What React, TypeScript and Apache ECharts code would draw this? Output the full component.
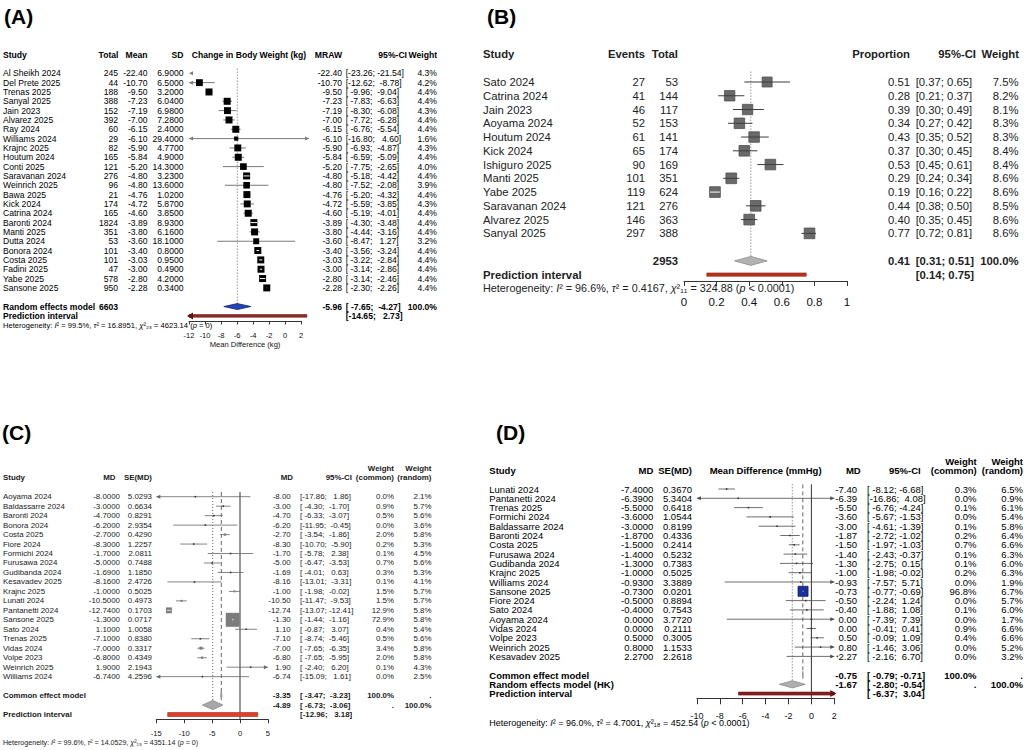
import React, { useEffect, useRef } from "react";
import * as echarts from "echarts";

const FONT = "'Liberation Sans', Arial, Helvetica, sans-serif";
const NB = "\u00a0";

// ---------- (A) change in body weight (raw mean) ----------
const aStudy = ["Al Sheikh 2024", "Del Prete 2025", "Trenas 2025", "Sanyal 2025", "Jain 2023", "Alvarez 2025", "Ray 2024", "Williams 2024", "Krajnc 2025", "Houtum 2024", "Conti 2025", "Saravanan 2024", "Weinrich 2025", "Bawa 2025", "Kick 2024", "Catrina 2024", "Baronti 2024", "Manti 2025", "Dutta 2024", "Bonora 2024", "Costa 2025", "Fadini 2025", "Yabe 2025", "Sansone 2025"];
const aTotal = [245, 44, 188, 388, 152, 392, 60, 29, 82, 165, 121, 276, 96, 21, 174, 165, 1824, 351, 53, 101, 101, 47, 578, 950];
const aMean = [-22.4, -10.7, -9.5, -7.23, -7.19, -7.0, -6.15, -6.1, -5.9, -5.84, -5.2, -4.8, -4.8, -4.76, -4.72, -4.6, -3.89, -3.8, -3.6, -3.4, -3.03, -3.0, -2.8, -2.28];
const aSD = [6.9, 6.5, 3.2, 6.04, 6.98, 7.28, 2.4, 29.4, 4.77, 4.9, 14.3, 3.23, 13.6, 1.02, 5.87, 3.85, 8.93, 6.16, 18.1, 0.8, 0.95, 0.49, 4.2, 0.34];
const aLower = [-23.26, -12.62, -9.96, -7.83, -8.3, -7.72, -6.76, -16.8, -6.93, -6.59, -7.75, -5.18, -7.52, -5.2, -5.59, -5.19, -4.3, -4.44, -8.47, -3.56, -3.22, -3.14, -3.14, -2.3];
const aUpper = [-21.54, -8.78, -9.04, -6.63, -6.08, -6.28, -5.54, 4.6, -4.87, -5.09, -2.65, -4.42, -2.08, -4.32, -3.85, -4.01, -3.48, -3.16, 1.27, -3.24, -2.84, -2.86, -2.46, -2.26];
const aWeight = [4.3, 4.2, 4.4, 4.4, 4.3, 4.4, 4.4, 1.6, 4.3, 4.4, 4.0, 4.4, 3.9, 4.4, 4.3, 4.4, 4.4, 4.4, 3.2, 4.4, 4.4, 4.4, 4.4, 4.4];
const aRandom = [-5.96, -7.65, -4.27];
const aPredict = [-14.65, 2.73];
const aN = 6603;
const aHet = "Heterogeneity: {i|I}² = 99.5%, {i|τ}² = 16.8951, {i|χ}²₂₃ = 4623.14 ({i|p} = 0)";

// ---------- (B) proportion ----------
const bStudy = ["Sato 2024", "Catrina 2024", "Jain 2023", "Aoyama 2024", "Houtum 2024", "Kick 2024", "Ishiguro 2025", "Manti 2025", "Yabe 2025", "Saravanan 2024", "Alvarez 2025", "Sanyal 2025"];
const bEvents = [27, 41, 46, 52, 61, 65, 90, 101, 119, 121, 146, 297];
const bTotal = [53, 144, 117, 153, 141, 174, 169, 351, 624, 276, 363, 388];
const bProp = [0.51, 0.28, 0.39, 0.34, 0.43, 0.37, 0.53, 0.29, 0.19, 0.44, 0.4, 0.77];
const bLower = [0.37, 0.21, 0.3, 0.27, 0.35, 0.3, 0.45, 0.24, 0.16, 0.38, 0.35, 0.72];
const bUpper = [0.65, 0.37, 0.49, 0.42, 0.52, 0.45, 0.61, 0.34, 0.22, 0.5, 0.45, 0.81];
const bWeight = [7.5, 8.2, 8.1, 8.3, 8.3, 8.4, 8.4, 8.6, 8.6, 8.5, 8.6, 8.6];
const bRandom = [0.41, 0.31, 0.51];
const bPredict = [0.14, 0.75];
const bN = 2953;
const bHet = "Heterogeneity: {i|I}² = 96.6%, {i|τ}² = 0.4167, {i|χ}²₁₁ = 324.88 ({i|p} < 0.0001)";

// ---------- (C) mean difference ----------
const cStudy = ["Aoyama 2024", "Baldassarre 2024", "Baronti 2024", "Bonora 2024", "Costa 2025", "Fiore 2024", "Formichi 2024", "Furusawa 2024", "Gudibanda 2024", "Kesavadev 2025", "Krajnc 2025", "Lunati 2024", "Pantanetti 2024", "Sansone 2025", "Sato 2024", "Trenas 2025", "Vidas 2024", "Volpe 2023", "Weinrich 2025", "Williams 2024"];
const cMD = [-8.0, -3.0, -4.7, -6.2, -2.7, -8.3, -1.7, -5.0, -1.69, -8.16, -1.0, -10.5, -12.74, -1.3, 1.1, -7.1, -7.0, -6.8, 1.9, -6.74];
const cSE = [5.0293, 0.6634, 0.8291, 2.9354, 0.429, 1.2257, 2.0811, 0.7488, 1.185, 2.4726, 0.5025, 0.4973, 0.1703, 0.0717, 1.0058, 0.838, 0.3317, 0.4349, 2.1943, 4.2596];
const cLower = [-17.86, -4.3, -6.33, -11.95, -3.54, -10.7, -5.78, -6.47, -4.01, -13.01, -1.98, -11.47, -13.07, -1.44, -0.87, -8.74, -7.65, -7.65, -2.4, -15.09];
const cUpper = [1.86, -1.7, -3.07, -0.45, -1.86, -5.9, 2.38, -3.53, 0.63, -3.31, -0.02, -9.53, -12.41, -1.16, 3.07, -5.46, -6.35, -5.95, 6.2, 1.61];
const cWCommon = [0.0, 0.9, 0.5, 0.0, 2.0, 0.2, 0.1, 0.7, 0.3, 0.1, 1.5, 1.5, 12.9, 72.9, 0.4, 0.5, 3.4, 2.0, 0.1, 0.0];
const cWRandom = [2.1, 5.7, 5.6, 3.6, 5.8, 5.3, 4.5, 5.6, 5.3, 4.1, 5.7, 5.7, 5.8, 5.8, 5.4, 5.6, 5.8, 5.8, 4.3, 2.5];
const cCommon = [-3.35, -3.47, -3.23];
const cRandom = [-4.89, -6.73, -3.06];
const cPredict = [-12.96, 3.18];
const cHet = "Heterogeneity: {i|I}² = 99.6%, {i|τ}² = 14.0529, {i|χ}²₁₉ = 4351.14 ({i|p} = 0)";

// ---------- (D) mean difference (mmHg) ----------
const dStudy = ["Lunati 2024", "Pantanetti 2024", "Trenas 2025", "Formichi 2024", "Baldassarre 2024", "Baronti 2024", "Costa 2025", "Furusawa 2024", "Gudibanda 2024", "Krajnc 2025", "Williams 2024", "Sansone 2025", "Fiore 2024", "Sato 2024", "Aoyama 2024", "Vidas 2024", "Volpe 2023", "Weinrich 2025", "Kesavadev 2025"];
const dMD = [-7.4, -6.39, -5.5, -3.6, -3.0, -1.87, -1.5, -1.4, -1.3, -1.0, -0.93, -0.73, -0.5, -0.4, 0.0, 0.0, 0.5, 0.8, 2.27];
const dSE = [0.367, 5.3404, 0.6418, 1.0544, 0.8199, 0.4336, 0.2414, 0.5232, 0.7383, 0.5025, 3.3889, 0.0201, 0.8894, 0.7543, 3.772, 0.2111, 0.3005, 1.1533, 2.2618];
const dLower = [-8.12, -16.86, -6.76, -5.67, -4.61, -2.72, -1.97, -2.43, -2.75, -1.98, -7.57, -0.77, -2.24, -1.88, -7.39, -0.41, -0.09, -1.46, -2.16];
const dUpper = [-6.68, 4.08, -4.24, -1.53, -1.39, -1.02, -1.03, -0.37, 0.15, -0.02, 5.71, -0.69, 1.24, 1.08, 7.39, 0.41, 1.09, 3.06, 6.7];
const dWCommon = [0.3, 0.0, 0.1, 0.0, 0.1, 0.2, 0.7, 0.1, 0.1, 0.2, 0.0, 96.8, 0.0, 0.1, 0.0, 0.9, 0.4, 0.0, 0.0];
const dWRandom = [6.5, 0.9, 6.1, 5.4, 5.8, 6.4, 6.6, 6.3, 6.0, 6.3, 1.9, 6.7, 5.7, 6.0, 1.7, 6.6, 6.6, 5.2, 3.2];
const dCommon = [-0.75, -0.79, -0.71];
const dRandom = [-1.67, -2.8, -0.54];
const dPredict = [-6.37, 3.04];
const dHet = "Heterogeneity: {i|I}² = 96.0%, {i|τ}² = 4.7001, {i|χ}²₁₈ = 452.54 ({i|p} < 0.0001)";

// ---------- panel geometry ----------
type Panel = {
  y0: number; rh: number; top: number; axis: number;
  left: number; width: number; min: number; max: number; step: number;
  lim: [number, number];
};
const PA: Panel = { y0: 73.3, rh: 9.33, top: -1, axis: 26.55, left: 189, width: 112, min: -12, max: 2, step: 2, lim: [-12, 3] };
const PB: Panel = { y0: 82, rh: 13.76, top: -1, axis: 14.46, left: 684, width: 163, min: 0, max: 1, step: 0.2, lim: [0, 1] };
const PC: Panel = { y0: 496.7, rh: 9.47, top: -1, axis: 23.5, left: 156.3, width: 111.6, min: -15, max: 5, step: 5, lim: [-15, 5] };
const PD: Panel = { y0: 489, rh: 9.3, top: -1, axis: 22.5, left: 696.9, width: 137.4, min: -10, max: 2, step: 2, lim: [-10, 2] };

const rowY = (p: Panel, r: number) => p.y0 + r * p.rh;

// ---------- text helpers ----------
function label(x: number, y: number, text: string, size: number, o: any = {}) {
  const align = o.align || "left";
  const color = o.color || "#000";
  return {
    type: "text",
    x, y, silent: true, z: 20,
    style: {
      text,
      fill: color,
      fontSize: size,
      fontFamily: FONT,
      fontWeight: o.bold ? "bold" : "normal",
      align, verticalAlign: "middle",
      textAlign: align, textVerticalAlign: "middle",
      rich: o.rich,
    },
  };
}

function italicRich(size: number, color: string) {
  return { i: { fontStyle: "italic", fontSize: size, fontFamily: FONT, fill: color } };
}

const pct = (v: number) => v.toFixed(1) + "%";

function ciStrings(pairs: number[][], dec: number): string[] {
  const lo = pairs.map((p) => p[0].toFixed(dec));
  const hi = pairs.map((p) => p[1].toFixed(dec));
  const wl = Math.max(...lo.map((s) => s.length));
  const wh = Math.max(...hi.map((s) => s.length));
  return lo.map((s, k) => "[" + s.padStart(wl, NB) + ";" + NB + hi[k].padStart(wh, NB) + "]");
}

function textA(): any[] {
  const p = PA, fs = 8.6, col = "#000";
  const el: any[] = [];
  const t = (x: number, r: number, s: string, o: any = {}) =>
    el.push(label(x, rowY(p, r), s, o.size || fs, { color: col, ...o }));
  const B = { bold: true }, R = { align: "right" }, BR = { bold: true, align: "right" };
  t(3, -2, "Study", B);
  t(118.5, -2, "Total", BR);
  t(147.5, -2, "Mean", BR);
  t(183.5, -2, "SD", BR);
  t(249, -2, "Change in Body Weight (kg)", { bold: true, align: "center" });
  t(342, -2, "MRAW", BR);
  t(407, -2, "95%-CI", BR);
  t(437, -2, "Weight", BR);
  const ci = ciStrings([...aLower.map((l, k) => [l, aUpper[k]]), [aRandom[1], aRandom[2]], aPredict], 2);
  aStudy.forEach((s, k) => {
    t(3, k, s);
    t(118, k, String(aTotal[k]), R);
    t(147.5, k, aMean[k].toFixed(2), R);
    t(183.5, k, aSD[k].toFixed(4), R);
    t(342, k, aMean[k].toFixed(2), R);
    t(345.7, k, ci[k]);
    t(437, k, pct(aWeight[k]), R);
  });
  const n = aStudy.length;
  t(3, n + 1, "Random effects model", B);
  t(118, n + 1, String(aN), BR);
  t(342, n + 1, aRandom[0].toFixed(2), BR);
  t(345.7, n + 1, ci[n], B);
  t(437, n + 1, "100.0%", BR);
  t(3, n + 2, "Prediction interval", B);
  t(345.7, n + 2, ci[n + 1], B);
  t(3, n + 3, aHet, { size: 7.6, rich: italicRich(7.6, col) });
  return el;
}

function textB(): any[] {
  const p = PB, fs = 11.3, col = "#222";
  const el: any[] = [];
  const t = (x: number, r: number, s: string, o: any = {}) =>
    el.push(label(x, rowY(p, r), s, o.size || fs, { color: col, ...o }));
  const B = { bold: true }, R = { align: "right" }, BR = { bold: true, align: "right" };
  t(483, -2, "Study", B);
  t(645, -2, "Events", BR);
  t(678, -2, "Total", BR);
  t(910, -2, "Proportion", BR);
  t(976, -2, "95%-CI", BR);
  t(1019, -2, "Weight", BR);
  const ci = ciStrings([...bLower.map((l, k) => [l, bUpper[k]]), [bRandom[1], bRandom[2]], bPredict], 2);
  bStudy.forEach((s, k) => {
    t(483, k, s);
    t(645, k, String(bEvents[k]), R);
    t(678, k, String(bTotal[k]), R);
    t(910, k, bProp[k].toFixed(2), R);
    t(915.7, k, ci[k]);
    t(1018.5, k, pct(bWeight[k]), R);
  });
  const n = bStudy.length;
  t(678, n + 1, String(bN), BR);
  t(910, n + 1, bRandom[0].toFixed(2), BR);
  t(915.7, n + 1, ci[n], B);
  t(1018.5, n + 1, "100.0%", BR);
  t(483, n + 2, "Prediction interval", B);
  t(915.7, n + 2, ci[n + 1], B);
  t(483, n + 3, bHet, { size: 10.8, rich: italicRich(10.8, col) });
  return el;
}

function textC(): any[] {
  const p = PC, fs = 7.9, col = "#1a1a1a";
  const el: any[] = [];
  const t = (x: number, r: number, s: string, o: any = {}) =>
    el.push(label(x, rowY(p, r), s, o.size || fs, { color: col, ...o }));
  const B = { bold: true }, R = { align: "right" }, BR = { bold: true, align: "right" };
  t(3, -2, "Study", B);
  t(115.5, -2, "MD", BR);
  t(152, -2, "SE(MD)", BR);
  t(293, -2, "MD", BR);
  t(352, -2, "95%-CI", BR);
  t(394, -3, "Weight", BR);
  t(394, -2, "(common)", BR);
  t(431.5, -3, "Weight", BR);
  t(431.5, -2, "(random)", BR);
  const ci = ciStrings([...cLower.map((l, k) => [l, cUpper[k]]), [cCommon[1], cCommon[2]], [cRandom[1], cRandom[2]], cPredict], 2);
  cStudy.forEach((s, k) => {
    t(3, k, s);
    t(120, k, cMD[k].toFixed(4), R);
    t(152, k, cSE[k].toFixed(4), R);
    t(290.7, k, cMD[k].toFixed(2), R);
    t(300, k, ci[k]);
    t(394, k, pct(cWCommon[k]), R);
    t(431.5, k, pct(cWRandom[k]), R);
  });
  const n = cStudy.length;
  t(3, n + 1, "Common effect model", B);
  t(290.7, n + 1, cCommon[0].toFixed(2), BR);
  t(300, n + 1, ci[n], B);
  t(394, n + 1, "100.0%", BR);
  t(431.5, n + 1, ".", BR);
  t(290.7, n + 2, cRandom[0].toFixed(2), BR);
  t(300, n + 2, ci[n + 1], B);
  t(394, n + 2, ".", BR);
  t(431.5, n + 2, "100.0%", BR);
  t(3, n + 3, "Prediction interval", B);
  t(300, n + 3, ci[n + 2], B);
  t(3, n + 6, cHet, { size: 7.1, rich: italicRich(7.1, col) });
  return el;
}

function textD(): any[] {
  const p = PD, fs = 9.5, col = "#000";
  const el: any[] = [];
  const t = (x: number, r: number, s: string, o: any = {}) =>
    el.push(label(x, rowY(p, r), s, o.size || fs, { color: col, ...o }));
  const B = { bold: true }, R = { align: "right" }, BR = { bold: true, align: "right" };
  t(489.3, -2, "Study", B);
  t(653.3, -2, "MD", BR);
  t(692, -2, "SE(MD)", BR);
  t(765.6, -2, "Mean Difference (mmHg)", { bold: true, align: "center" });
  t(860.7, -2, "MD", BR);
  t(920.7, -2, "95%-CI", BR);
  t(976.7, -3, "Weight", BR);
  t(976.7, -2, "(common)", BR);
  t(1023, -3, "Weight", BR);
  t(1023, -2, "(random)", BR);
  const ci = ciStrings([...dLower.map((l, k) => [l, dUpper[k]]), [dCommon[1], dCommon[2]], [dRandom[1], dRandom[2]], dPredict], 2);
  dStudy.forEach((s, k) => {
    t(489.3, k, s);
    t(653.3, k, dMD[k].toFixed(4), R);
    t(692, k, dSE[k].toFixed(4), R);
    t(857, k, dMD[k].toFixed(2), R);
    t(867, k, ci[k]);
    t(976.5, k, pct(dWCommon[k]), R);
    t(1023, k, pct(dWRandom[k]), R);
  });
  const n = dStudy.length;
  t(489.3, n + 1, "Common effect model", B);
  t(857, n + 1, dCommon[0].toFixed(2), BR);
  t(867, n + 1, ci[n], B);
  t(976.5, n + 1, "100.0%", BR);
  t(1023, n + 1, ".", BR);
  t(489.3, n + 2, "Random effects model (HK)", B);
  t(857, n + 2, dRandom[0].toFixed(2), BR);
  t(867, n + 2, ci[n + 1], B);
  t(976.5, n + 2, ".", BR);
  t(1023, n + 2, "100.0%", BR);
  t(489.3, n + 3, "Prediction interval", B);
  t(867, n + 3, ci[n + 2], B);
  t(489.3, n + 6.2, dHet, { size: 9, rich: italicRich(9, col) });
  return el;
}

// ---------- mark renderers ----------
const tri = (x: number, y: number, dir: number, color: string, len = 4, half = 2) => ({
  type: "polygon",
  shape: { points: [[x, y], [x - dir * len, y - half], [x - dir * len, y + half]] },
  style: { fill: color },
});

type BoxStyle = {
  box: string; boxStroke: string; line: string; lw: number;
  maxSide: number; minSide: number; wMax: number; lineOnTop: boolean;
};

function studyItem(p: Panel, st: BoxStyle) {
  return (_params: any, api: any) => {
    const est = api.value(0), lo = api.value(1), hi = api.value(2), row = api.value(3), w = api.value(4);
    const [xmin, xmax] = p.lim;
    const at = (v: number) => api.coord([v, row]);
    const y = at(est)[1];
    const kids: any[] = [];
    if (hi < xmin) {
      kids.push(tri(at(xmin)[0], y, -1, st.line));
      return { type: "group", children: kids };
    }
    if (lo > xmax) {
      kids.push(tri(at(xmax)[0], y, 1, st.line));
      return { type: "group", children: kids };
    }
    const xa = at(Math.max(lo, xmin))[0];
    const xb = at(Math.min(hi, xmax))[0];
    const xe = at(est)[0];
    const raw = st.maxSide * Math.sqrt(w / st.wMax);
    const tiny = raw < st.minSide;
    const side = tiny ? st.minSide : raw;
    const narrow = xb - xa < side;
    const seg = (stroke: string) => ({
      type: "line",
      shape: { x1: xa, y1: y, x2: xb, y2: y },
      style: { stroke, lineWidth: st.lw },
    });
    if (!st.lineOnTop || narrow) kids.push(seg(st.line));
    kids.push({
      type: "rect",
      shape: { x: xe - side / 2, y: y - side / 2, width: side, height: side },
      style: tiny
        ? { fill: "#333" }
        : { fill: st.box, stroke: st.boxStroke || undefined, lineWidth: st.boxStroke ? 0.8 : 0 },
    });
    if (narrow) kids.push(seg("#ffffff"));
    else if (st.lineOnTop) kids.push(seg(st.line));
    if (lo < xmin) kids.push(tri(xa, y, -1, st.line));
    if (hi > xmax) kids.push(tri(xb, y, 1, st.line));
    return { type: "group", children: kids };
  };
}

function diamondItem(half: number, fill: string, stroke: string) {
  return (_params: any, api: any) => {
    const row = api.value(3);
    const a = api.coord([api.value(1), row]);
    const e = api.coord([api.value(0), row]);
    const b = api.coord([api.value(2), row]);
    return {
      type: "polygon",
      shape: { points: [[a[0], a[1]], [e[0], e[1] - half], [b[0], b[1]], [e[0], e[1] + half]] },
      style: { fill, stroke, lineWidth: 0.8 },
    };
  };
}

function predictItem(p: Panel, h: number, fill: string, stroke: string) {
  return (_params: any, api: any) => {
    const lo = api.value(0), hi = api.value(1), row = api.value(2);
    const a = api.coord([Math.max(lo, p.lim[0]), row]);
    const b = api.coord([Math.min(hi, p.lim[1]), row]);
    const kids: any[] = [
      {
        type: "rect",
        shape: { x: a[0], y: a[1] - h / 2, width: b[0] - a[0], height: h },
        style: { fill, stroke, lineWidth: 0.6 },
      },
    ];
    if (lo < p.lim[0]) kids.push(tri(a[0] - 2, a[1], -1, stroke, 6, 3.5));
    if (hi > p.lim[1]) kids.push(tri(b[0] + 2, b[1], 1, stroke, 6, 3.5));
    return { type: "group", children: kids };
  };
}

// reference lines: kind 0 solid, 1 dashed, 2 dotted
function refItem() {
  return (_params: any, api: any) => {
    const x = api.value(0), kind = api.value(3);
    const a = api.coord([x, api.value(1)]);
    const b = api.coord([x, api.value(2)]);
    return {
      type: "line",
      shape: { x1: a[0], y1: a[1], x2: b[0], y2: b[1] },
      style: {
        stroke: kind === 0 ? "#333" : "#555",
        lineWidth: kind === 0 ? 1 : 0.9,
        lineDash: kind === 0 ? null : kind === 1 ? [4, 3] : [1, 2],
      },
    };
  };
}

function seriesFor(i: number, p: Panel, parts: {
  lo: number[]; hi: number[]; est: number[]; w: number[]; box: BoxStyle;
  pooled: number[][]; pooledRows: number[]; dia: [number, string, string];
  predict: number[]; predictRow: number; pi: [number, string, string];
  refs: number[][];
}) {
  const common = { type: "custom", xAxisIndex: i, yAxisIndex: i, clip: false, silent: true, animation: false };
  return [
    { ...common, z: 1, data: parts.refs, encode: { x: 0, y: [1, 2] }, renderItem: refItem() },
    {
      ...common, z: 3,
      data: parts.est.map((e, k) => [e, parts.lo[k], parts.hi[k], k, parts.w[k]]),
      encode: { x: [0, 1, 2], y: 3 },
      renderItem: studyItem(p, parts.box),
    },
    {
      ...common, z: 3,
      data: parts.pooled.map((d, k) => [d[0], d[1], d[2], parts.pooledRows[k]]),
      encode: { x: [0, 1, 2], y: 3 },
      renderItem: diamondItem(parts.dia[0], parts.dia[1], parts.dia[2]),
    },
    {
      ...common, z: 3,
      data: [[parts.predict[0], parts.predict[1], parts.predictRow]],
      encode: { x: [0, 1], y: 2 },
      renderItem: predictItem(p, parts.pi[0], parts.pi[1], parts.pi[2]),
    },
  ];
}

function axisPair(i: number, p: Panel, fs: number, tick: number, margin: number, extra: any = {}) {
  return {
    x: {
      type: "value", gridIndex: i, min: p.min, max: p.max, interval: p.step, position: "bottom",
      axisLine: { show: true, onZero: false, lineStyle: { color: "#333", width: 1 } },
      axisTick: { show: true, length: tick, inside: false, lineStyle: { color: "#333", width: 1 } },
      axisLabel: { show: true, fontSize: fs, fontFamily: FONT, color: "#111", margin },
      splitLine: { show: false },
      ...extra,
    },
    y: { type: "value", gridIndex: i, min: p.top, max: p.axis, inverse: true, show: false, splitLine: { show: false } },
  };
}

function buildOption() {
  const panels = [PA, PB, PC, PD];
  const grid = panels.map((p) => ({
    left: p.left, top: rowY(p, p.top), width: p.width, height: (p.axis - p.top) * p.rh,
    containLabel: false, outerBoundsMode: "none", show: false,
  }));
  const axA = axisPair(0, PA, 7.6, 3.5, 10, {
    name: "Mean Difference (kg)", nameLocation: "middle", nameGap: 19,
    nameTextStyle: { fontSize: 7.6, fontFamily: FONT, color: "#111" },
  });
  const axB = axisPair(1, PB, 11.5, 5, 15.5);
  const axC = axisPair(2, PC, 7.6, 4, 10.3);
  const axD = axisPair(3, PD, 9, 6, 13.5);
  const axes = [axA, axB, axC, axD];

  const nA = aStudy.length, nB = bStudy.length, nC = cStudy.length, nD = dStudy.length;

  const series = [
    ...seriesFor(0, PA, {
      est: aMean, lo: aLower, hi: aUpper, w: aWeight,
      box: { box: "#000", boxStroke: "", line: "#7a7a7a", lw: 1, maxSide: 7, minSide: 2, wMax: 4.4, lineOnTop: false },
      pooled: [aRandom], pooledRows: [nA + 1], dia: [3, "#2443b8", "#12237a"],
      predict: aPredict, predictRow: nA + 2, pi: [2.6, "#9b2a2a", "#5c1414"],
      refs: [[aRandom[0], -0.5, nA + 0.7, 2]],
    }),
    ...seriesFor(1, PB, {
      est: bProp, lo: bLower, hi: bUpper, w: bWeight,
      box: { box: "#6a6a6a", boxStroke: "#505050", line: "#3c3c3c", lw: 1, maxSide: 10.7, minSide: 2, wMax: 8.6, lineOnTop: true },
      pooled: [bRandom], pooledRows: [nB + 1], dia: [4.5, "#b3b3b3", "#8c8c8c"],
      predict: bPredict, predictRow: nB + 2, pi: [3.4, "#b4321f", "#9a2718"],
      refs: [[bRandom[0], -0.75, nB + 1, 2]],
    }),
    ...seriesFor(2, PC, {
      est: cMD, lo: cLower, hi: cUpper, w: cWCommon,
      box: { box: "#7d7d7d", boxStroke: "", line: "#666", lw: 0.8, maxSide: 14, minSide: 1.6, wMax: 72.9, lineOnTop: false },
      pooled: [cCommon, cRandom], pooledRows: [nC + 1, nC + 2], dia: [4.6, "#a8a8a8", "#8a8a8a"],
      predict: cPredict, predictRow: nC + 3, pi: [4, "#dc4128", "#a62a18"],
      refs: [
        [0, -0.5, PC.axis, 0],
        [cCommon[0], -0.5, nC + 0.6, 1],
        [cRandom[0], -0.5, nC + 1.6, 2],
      ],
    }),
    ...seriesFor(3, PD, {
      est: dMD, lo: dLower, hi: dUpper, w: dWCommon,
      box: { box: "#1b2f9e", boxStroke: "#0d1a66", line: "#4a4a4a", lw: 0.8, maxSide: 10, minSide: 1.6, wMax: 96.8, lineOnTop: false },
      pooled: [dCommon, dRandom], pooledRows: [nD + 1, nD + 2], dia: [3.6, "#b0b0b0", "#8c8c8c"],
      predict: dPredict, predictRow: nD + 3, pi: [3, "#8b1d1d", "#6a1010"],
      refs: [
        [0, -0.5, PD.axis, 0],
        [dCommon[0], -0.5, nD + 0.6, 1],
        [dRandom[0], -0.5, nD + 1.6, 2],
      ],
    }),
  ];

  const titles = [
    label(4, 16, "(A)", 21, { bold: true }),
    label(487, 16, "(B)", 21, { bold: true }),
    label(2, 432, "(C)", 21, { bold: true }),
    label(496, 432, "(D)", 21, { bold: true }),
  ];

  return {
    animation: false,
    backgroundColor: "#ffffff",
    grid,
    xAxis: axes.map((a) => a.x),
    yAxis: axes.map((a) => a.y),
    series,
    graphic: { elements: [...titles, ...textA(), ...textB(), ...textC(), ...textD()] },
  };
}

export default function App() {
  const ref = useRef<HTMLDivElement | null>(null);
  useEffect(() => {
    if (!ref.current) return;
    const chart = echarts.init(ref.current, undefined, { renderer: "svg", width: 1024, height: 750 });
    chart.setOption(buildOption() as any);
    return () => chart.dispose();
  }, []);
  return (
    <div
      ref={ref}
      style={{ position: "fixed", left: 0, top: 0, width: 1024, height: 750, background: "#fff" }}
    />
  );
}
